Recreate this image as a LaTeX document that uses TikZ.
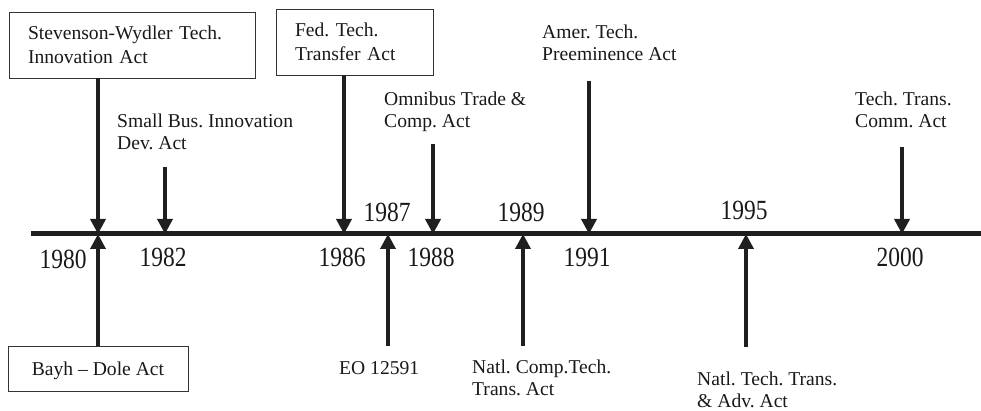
\documentclass[tikz,border=0pt]{standalone}
\usepackage{fontspec}
\usepackage{graphicx}
\setmainfont{Liberation Serif}
\usetikzlibrary{arrows.meta}
\newcommand{\yrtxt}[1]{\scalebox{1}[1.18]{#1}}
\begin{document}
\frenchspacing
\begin{tikzpicture}[x=1pt,y=-1pt,
  lab/.style={font=\frenchspacing\fontsize{19.6}{22}\selectfont, text=black!90, inner sep=0pt, anchor=base west, align=left},
  yr/.style={font=\fontsize{23.5}{26}\selectfont, text=black!90, inner sep=0pt, anchor=base},
  actbox/.style={draw=black!80, line width=0.9pt, font=\frenchspacing\fontsize{19.6}{22}\selectfont, text=black!90, inner xsep=19pt, inner ysep=0pt, minimum height=66pt, align=left},
  arr/.style={draw=black!88, line width=3.5pt, -{Triangle[length=15pt,width=15pt]}},
  axisline/.style={draw=black!88, line width=5pt}]
\useasboundingbox (0,0) rectangle (981,411);
% axis
\coordinate (axL) at (31,234);
\coordinate (axR) at (981,234);
\draw[axisline] (axL) -- (axR);
% axis points
\coordinate (a1980) at (98,234);
\coordinate (a1982) at (165,234);
\coordinate (a1986) at (344,234);
\coordinate (a1987) at (388,234);
\coordinate (a1988) at (433,234);
\coordinate (a1989) at (523,234);
\coordinate (a1991) at (589,234);
\coordinate (a1995) at (746,234);
\coordinate (a2000) at (902,234);
% free arrow ends
\coordinate (s1982) at (165,167);
\coordinate (s1987) at (388,346);
\coordinate (s1988) at (433,144);
\coordinate (s1989) at (523,346);
\coordinate (s1991) at (589,81);
\coordinate (s1995) at (746,347);
\coordinate (s2000) at (902,147);
% boxes
\node[actbox, text width=208pt] (sw) at (132,45) {\vspace{2pt}Stevenson-Wydler Tech.\\Innovation Act};
\node[actbox, text width=119pt] (ft) at (354.5,42) {\vspace{2pt}Fed. Tech.\\Transfer Act};
\node[actbox, minimum width=180pt, minimum height=45pt, text height=14pt, text depth=1pt] (bd) at (98,368.5) {Bayh – Dole Act};
% labels (anchor at baseline of last line)
\node[lab] (sbl) at (117,150) {Small Bus. Innovation\\Dev. Act};
\node[lab] (otl) at (384,128) {Omnibus Trade \&\\Comp. Act};
\node[lab] (atl) at (542,61) {Amer. Tech.\\Preeminence Act};
\node[lab] (ttl) at (855,128) {Tech. Trans.\\Comm. Act};
\node[lab] (eol) at (339,374) {EO 12591};
\node[lab] (nct) at (472,395) {Natl. Comp.Tech.\\Trans. Act};
\node[lab] (ntt) at (697,407) {Natl. Tech. Trans.\\\& Adv. Act};
% years
\node[yr] (y1980) at (63,269) {\yrtxt{1980}};
\node[yr] (y1982) at (163,266) {\yrtxt{1982}};
\node[yr] (y1986) at (342,266) {\yrtxt{1986}};
\node[yr] (y1987) at (387,222) {\yrtxt{1987}};
\node[yr] (y1988) at (431,266) {\yrtxt{1988}};
\node[yr] (y1989) at (521,222) {\yrtxt{1989}};
\node[yr] (y1991) at (587,266) {\yrtxt{1991}};
\node[yr] (y1995) at (744,220) {\yrtxt{1995}};
\node[yr] (y2000) at (900,266) {\yrtxt{2000}};
% arrows
\draw[arr] (sw.south -| a1980) -- (a1980);
\draw[arr] (bd.north) -- (a1980);
\draw[arr] (s1982) -- (a1982);
\draw[arr] (ft.south -| a1986) -- (a1986);
\draw[arr] (s1987) -- (a1987);
\draw[arr] (s1988) -- (a1988);
\draw[arr] (s1989) -- (a1989);
\draw[arr] (s1991) -- (a1991);
\draw[arr] (s1995) -- (a1995);
\draw[arr] (s2000) -- (a2000);
\end{tikzpicture}
\end{document}
